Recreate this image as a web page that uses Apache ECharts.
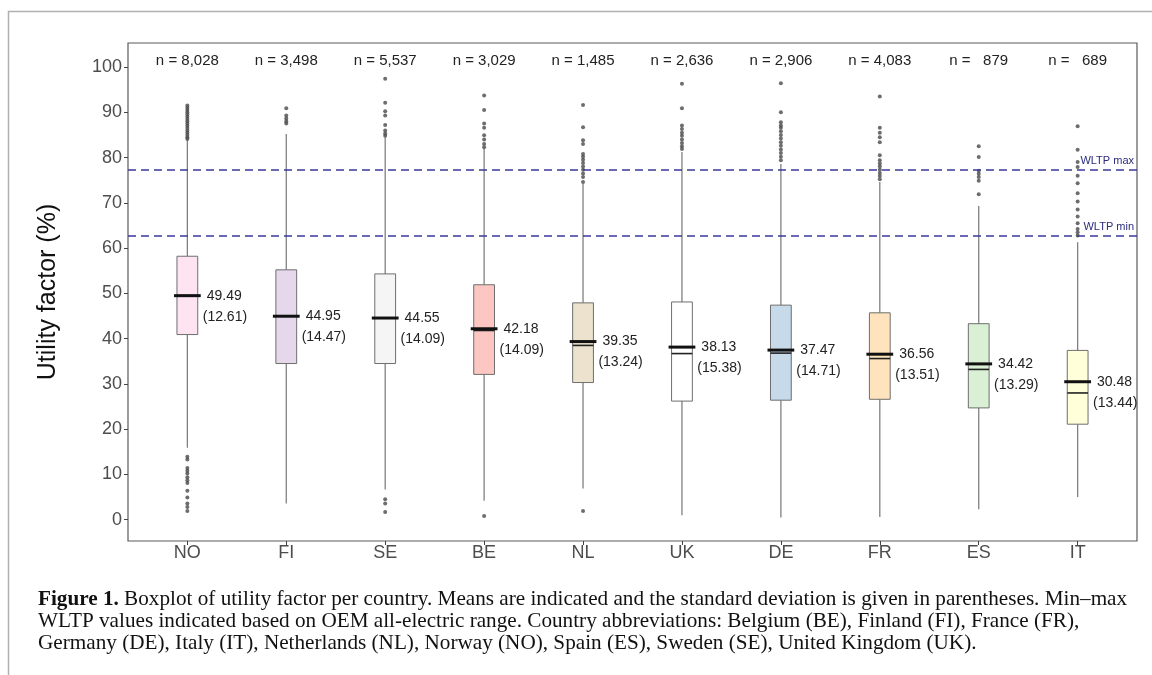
<!DOCTYPE html>
<html>
<head>
<meta charset="utf-8">
<title>Utility factor per country</title>
<script src="https://cdn.jsdelivr.net/npm/echarts@6/dist/echarts.min.js"></script>
<style>
    html, body { margin: 0; padding: 0; background: #fff; }
    #chart { width: 1152px; height: 675px; }
</style>
</head>
<body>
<div id="chart"></div>
<script>
// 国家与样本量
const countries = ['NO', 'FI', 'SE', 'BE', 'NL', 'UK', 'DE', 'FR', 'ES', 'IT']
const counts = ['8,028', '3,498', '5,537', '3,029', '1,485', '2,636', '2,906', '4,083', '  879', '  689']

// 箱线图数值 (%)
const whiskerLow = [15.9, 3.6, 6.7, 4.2, 6.9, 1.0, 0.5, 0.6, 2.3, 5.0]
const q1 = [40.9, 34.5, 34.5, 32.1, 30.3, 26.2, 26.4, 26.6, 24.7, 21.1]
const median = [49.5, 45.0, 44.6, 41.8, 38.5, 36.7, 36.8, 35.6, 33.2, 28.0]
const q3 = [58.2, 55.2, 54.3, 51.9, 47.9, 48.1, 47.4, 45.7, 43.3, 37.4]
const whiskerHigh = [83.8, 85.2, 84.5, 81.9, 74.2, 81.2, 78.6, 74.6, 69.3, 61.3]
const means = [49.49, 44.95, 44.55, 42.18, 39.35, 38.13, 37.47, 36.56, 34.42, 30.48]
const sds = [12.61, 14.47, 14.09, 14.09, 13.24, 15.38, 14.71, 13.51, 13.29, 13.44]

// 离群点
const outliers = [
    [84.1, 84.5, 85.0, 85.5, 86.0, 86.5, 87.0, 87.5, 88.0, 88.5, 89.0, 89.5, 90.0, 90.5, 91.0, 91.5,
     13.9, 13.3, 11.4, 10.8, 10.2, 9.4, 8.7, 8.1, 6.4, 4.9, 3.6, 2.8, 1.9],
    [87.5, 88.0, 88.6, 89.3, 90.9],
    [84.8, 85.3, 86.0, 87.2, 89.3, 90.2, 92.1, 97.4, 4.5, 3.6, 1.7],
    [82.3, 83.0, 84.0, 84.9, 86.6, 87.5, 90.5, 93.7, 0.8],
    [74.6, 75.7, 76.5, 77.3, 78.0, 78.8, 79.5, 80.2, 80.8, 83.0, 83.8, 86.7, 91.6, 1.9],
    [81.9, 82.5, 83.2, 84.0, 84.8, 85.5, 86.3, 87.1, 90.9, 96.3],
    [79.4, 80.2, 81.0, 81.8, 82.6, 83.4, 84.2, 85.0, 85.8, 86.6, 87.1, 87.8, 90.0, 96.4],
    [75.2, 75.9, 76.6, 77.3, 78.0, 78.7, 79.4, 80.5, 83.4, 84.5, 85.5, 86.6, 93.5],
    [71.9, 74.9, 75.7, 76.4, 77.1, 80.1, 82.5],
    [62.8, 63.5, 64.2, 65.5, 67.0, 68.5, 70.3, 72.1, 74.3, 76.0, 77.9, 79.0, 81.7, 86.9]
]

// WLTP 参考线
const wltpNames = ['WLTP max', 'WLTP min']
const wltpValues = [77.3, 62.8]

// 刻度
const yTicks = [0, 10, 20, 30, 40, 50, 60, 70, 80, 90, 100]

// 样式
const boxColors = ['#FDDAEC', '#DECBE4', '#F2F2F2', '#FBB4AE', '#E5D8BD', '#FFFFFF', '#B3CDE3', '#FED9A6', '#CCEBC5', '#FFFFCC']
const font = 'Liberation Sans'
const nLabelY = 101.4

const boxData = countries.map((c, i) => [i, whiskerLow[i], q1[i], median[i], q3[i], whiskerHigh[i], means[i], sds[i]])

const outlierData = []
outliers.forEach((list, i) => {
    list.forEach(v => outlierData.push([i, v]))
})

// 画箱体、均值线和文字
function renderBox(params, api) {
    const i = api.value(0)
    const cx = api.coord([i, 0])[0]
    const half = api.size([0.21, 0])[0] / 2
    const y = k => api.coord([i, api.value(k)])[1]
    const yLo = y(1), yQ1 = y(2), yMed = y(3), yQ3 = y(4), yHi = y(5), yMean = y(6)
    const nY = api.coord([i, nLabelY])[1]
    const whisker = { stroke: '#808080', lineWidth: 1.3 }
    return {
        type: 'group',
        children: [
            { type: 'line', shape: { x1: cx, y1: yHi, x2: cx, y2: yQ3 }, style: whisker },
            { type: 'line', shape: { x1: cx, y1: yQ1, x2: cx, y2: yLo }, style: whisker },
            {
                type: 'rect',
                shape: { x: cx - half, y: yQ3, width: half * 2, height: yQ1 - yQ3 },
                style: { fill: boxColors[i], fillOpacity: 0.75, stroke: '#6e6e6e', lineWidth: 1 }
            },
            { type: 'line', shape: { x1: cx - half, y1: yMed, x2: cx + half, y2: yMed }, style: { stroke: '#222', lineWidth: 1.6 } },
            { type: 'line', shape: { x1: cx - half - 3, y1: yMean, x2: cx + half + 3, y2: yMean }, style: { stroke: '#111', lineWidth: 3 } },
            {
                type: 'text',
                style: { x: cx + half + 9, y: yMean, text: api.value(6).toFixed(2), fill: '#222', font: '14px ' + font, verticalAlign: 'middle', align: 'left' }
            },
            {
                type: 'text',
                style: { x: cx + half + 5, y: yMean + 21, text: '(' + api.value(7).toFixed(2) + ')', fill: '#222', font: '14px ' + font, verticalAlign: 'middle', align: 'left' }
            },
            {
                type: 'text',
                style: { x: cx, y: nY, text: 'n = ' + counts[i], fill: '#222', font: '15px ' + font, verticalAlign: 'middle', align: 'center' }
            }
        ]
    }
}

const chart = echarts.init(document.getElementById('chart'))

const option = {
    animation: false,
    backgroundColor: '#fff',
    title: {
        left: 33,
        top: 584,
        text: '{b|Figure 1.} Boxplot of utility factor per country. Means are indicated and the standard deviation is given in parentheses. Min–max\n' +
            'WLTP values indicated based on OEM all-electric range. Country abbreviations: Belgium (BE), Finland (FI), France (FR),\n' +
            'Germany (DE), Italy (IT), Netherlands (NL), Norway (NO), Spain (ES), Sweden (SE), United Kingdom (UK).',
        textStyle: {
            fontFamily: 'Liberation Serif',
            fontSize: 21.2,
            fontWeight: 'normal',
            color: '#111',
            lineHeight: 21.7,
            rich: {
                b: { fontFamily: 'Liberation Serif', fontSize: 21.2, fontWeight: 'bold', color: '#111', lineHeight: 21.7 }
            }
        }
    },
    graphic: [
        {
            type: 'polyline',
            shape: { points: [[8.5, 675], [8.5, 11.5], [1152, 11.5]] },
            style: { stroke: '#b0b0b0', lineWidth: 1.5, fill: null },
            silent: true
        }
    ],
    grid: {
        left: 128,
        right: 15,
        top: 43,
        bottom: 134,
        show: true,
        borderColor: '#5a5a5a',
        borderWidth: 1.2,
        backgroundColor: 'transparent'
    },
    xAxis: {
        type: 'value',
        min: -0.6,
        max: 9.6,
        axisLine: { show: false, onZero: false },
        splitLine: { show: false },
        axisTick: { show: true, length: 4, customValues: countries.map((c, i) => i), lineStyle: { color: '#444' } },
        axisLabel: {
            customValues: countries.map((c, i) => i),
            formatter: v => countries[Math.round(v)],
            fontFamily: font,
            fontSize: 18,
            color: '#4d4d4d',
            margin: 3
        }
    },
    yAxis: {
        type: 'value',
        min: -4.7,
        max: 105.3,
        name: 'Utility factor (%)',
        nameLocation: 'middle',
        nameGap: 67,
        nameTextStyle: { fontFamily: font, fontSize: 25, color: '#111' },
        axisLine: { show: false, onZero: false },
        splitLine: { show: false },
        axisTick: { show: true, length: 4, customValues: yTicks, lineStyle: { color: '#444' } },
        axisLabel: {
            customValues: yTicks,
            fontFamily: font,
            fontSize: 18,
            color: '#4d4d4d',
            margin: 6
        }
    },
    series: [
        {
            type: 'custom',
            name: 'box',
            data: boxData,
            encode: { x: 0, y: [1, 5] },
            renderItem: renderBox,
            clip: false,
            z: 2
        },
        {
            type: 'scatter',
            name: 'outliers',
            data: outlierData,
            symbolSize: 4,
            itemStyle: { color: '#484848' },
            z: 4,
            markLine: {
                silent: true,
                symbol: 'none',
                lineStyle: { color: '#3a3a9a', type: [8, 5], width: 1.5 },
                label: {
                    show: true,
                    position: 'insideEndTop',
                    formatter: '{b}',
                    color: '#2b2b80',
                    fontFamily: font,
                    fontSize: 11,
                    distance: 3
                },
                data: wltpValues.map((v, i) => ({ name: wltpNames[i], yAxis: v }))
            }
        }
    ]
}

chart.setOption(option)

window.addEventListener('resize', () => {
    chart.resize()
})
</script>
</body>
</html>
